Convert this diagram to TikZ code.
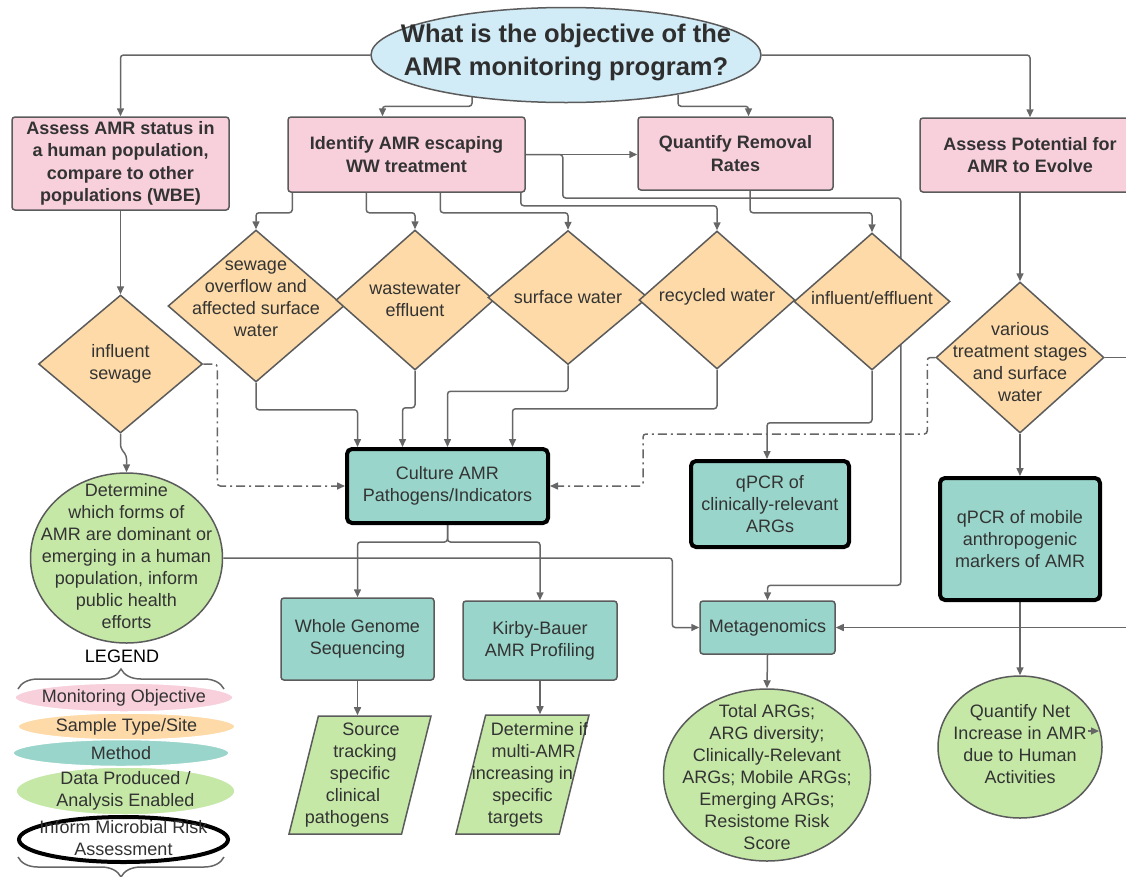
\documentclass[tikz,border=0pt]{standalone}
\usepackage{fontspec}
\setmainfont{Liberation Sans}
\usetikzlibrary{shapes.geometric,arrows.meta,calc,backgrounds,decorations.pathreplacing}

\definecolor{objpink}{HTML}{F8D0DC}
\definecolor{siteorange}{HTML}{FDDAA7}
\definecolor{methteal}{HTML}{99D5CA}
\definecolor{datagreen}{HTML}{C5E8A7}
\definecolor{askblue}{HTML}{D1EBF7}
\definecolor{edge}{HTML}{5B5B5B}
\definecolor{wire}{HTML}{666666}
\definecolor{ink}{HTML}{333333}

\tikzset{
  txt/.style={font=\fontsize{18}{22}\selectfont, text=ink, align=center, inner sep=0pt},
  asktxt/.style={txt, font=\bfseries\fontsize{25.5}{33}\selectfont, text=ink!90!black},
  askball/.style={ellipse, draw=edge, line width=1.5pt, fill=askblue, inner sep=0pt},
  objbox/.style={rectangle, rounded corners=3pt, draw=edge, line width=1.5pt, fill=objpink,
    font=\bfseries\fontsize{18}{22.5}\selectfont, text=ink, align=center, inner sep=0pt},
  sitebox/.style={diamond, draw=edge, line width=1.5pt, fill=siteorange, inner sep=0pt},
  methbox/.style={rectangle, rounded corners=3pt, draw=edge, line width=1.5pt, fill=methteal, txt},
  riskbox/.style={methbox, draw=black, line width=4pt, rounded corners=5pt},
  databall/.style={ellipse, draw=edge, line width=1.5pt, fill=datagreen, inner sep=0pt},
  datapar/.style={trapezium, trapezium left angle=76, trapezium right angle=104,
    trapezium stretches body, draw=edge, line width=1.5pt, fill=datagreen, inner sep=0pt},
  legkey/.style={ellipse, draw=white, line width=1.5pt, inner sep=0pt},
  plain/.style={draw=wire, line width=1.5pt, rounded corners=3pt},
  conn/.style={plain, -{Triangle[length=8pt,width=7pt]}},
  dashconn/.style={conn, dash pattern=on 9pt off 4pt on 2pt off 4pt},
  brace/.style={draw=wire, line width=1.5pt, decorate, decoration={brace, amplitude=20pt}},
}

\begin{document}
\begin{tikzpicture}[x=1pt,y=-1pt]
\useasboundingbox (0,0) rectangle (1126,876);

% question
\node[askball, minimum width=390pt, minimum height=95pt,
  label={[asktxt, yshift=3pt]center:{What is the objective of the\\AMR monitoring program?}}] (ask) at (566,55) {};

% monitoring objectives
\node[objbox, minimum width=217pt, minimum height=93pt] (assess) at (120.5,163.5) {Assess AMR status in\\a human population,\\compare to other\\populations (WBE)};
\node[objbox, minimum width=237pt, minimum height=75pt] (identify) at (406.5,154.5) {Identify AMR escaping\\WW treatment};
\node[objbox, minimum width=195pt, minimum height=73pt] (quantify) at (735.5,153.5) {Quantify Removal\\Rates};
\node[objbox, minimum width=220pt, minimum height=74pt] (potential) at (1030,155) {Assess Potential for\\AMR to Evolve};

% sample types / sites
\node[sitebox, minimum width=164pt, minimum height=138pt, label={[txt]center:{influent\\sewage}}] (infsew) at (120.5,364) {};
\node[sitebox, minimum width=176pt, minimum height=152pt, label={[txt, yshift=7pt]center:{sewage\\overflow and\\affected surface\\water}}] (overflow) at (256,306) {};
\node[sitebox, minimum width=158pt, minimum height=140pt, label={[txt]center:{wastewater\\effluent}}] (wweff) at (415,300) {};
\node[sitebox, minimum width=160pt, minimum height=134pt, label={[txt]center:{surface water}}] (surf) at (568,297.5) {};
\node[sitebox, minimum width=156pt, minimum height=138pt, label={[txt, yshift=3pt]center:{recycled water}}] (recyc) at (717,300) {};
\node[sitebox, minimum width=156pt, minimum height=137pt, label={[txt, yshift=3pt]center:{influent/effluent}}] (inoutf) at (872,301.5) {};
\node[sitebox, minimum width=168pt, minimum height=151pt, label={[txt, yshift=-5pt]center:{various\\treatment stages\\and surface\\water}}] (stages) at (1020,357.5) {};

% methods
\node[riskbox, minimum width=201pt, minimum height=74pt] (culture) at (447.5,486) {Culture AMR\\Pathogens/Indicators};
\node[riskbox, minimum width=158pt, minimum height=86pt] (qpcrc) at (770,504) {qPCR of\\clinically-relevant\\ARGs};
\node[riskbox, minimum width=160pt, minimum height=122pt] (qpcrm) at (1020,539) {qPCR of mobile\\anthropogenic\\markers of AMR};
\node[methbox, minimum width=135pt, minimum height=53pt] (meta) at (767.5,627.5) {Metagenomics};
\node[methbox, minimum width=153pt, minimum height=82pt] (wgs) at (357.5,639) {Whole Genome\\Sequencing};
\node[methbox, minimum width=154pt, minimum height=79pt] (kirby) at (540,640.5) {Kirby-Bauer\\AMR Profiling};

% data produced / analysis enabled
\node[databall, minimum width=192pt, minimum height=170pt, label={[txt, yshift=2pt]center:{Determine\\which forms of\\AMR are dominant or\\emerging in a human\\population, inform\\public health\\efforts}}] (forms) at (126.5,558) {};
\node[databall, minimum width=207pt, minimum height=172pt, label={[txt, yshift=-2pt]center:{Total ARGs;\\ARG diversity;\\Clinically-Relevant\\ARGs; Mobile ARGs;\\Emerging ARGs;\\Resistome Risk\\Score}}] (total) at (767,775) {};
\node[databall, minimum width=164pt, minimum height=142pt, label={[txt, yshift=3pt]center:{Quantify Net\\Increase in AMR\\due to Human\\Activities}}] (netinc) at (1020,747) {};
\node[datapar, minimum width=142pt, label={[txt]center:{\hspace*{22pt}Source\\\hspace*{10pt}tracking\\specific\\\hspace*{-14pt}clinical\\\hspace*{-26pt}pathogens}}] (srctrack) at (360,775) {\rule{0pt}{118pt}};
\node[datapar, minimum width=133pt, label={[txt]center:{\hspace*{34pt}Determine if\\\hspace*{22pt}multi-AMR\\increasing in\\specific\\\hspace*{-14pt}targets}}] (multiamr) at (522.5,774.5) {\rule{0pt}{119pt}};

% legend
\node[txt, text=black] (legtitle) at (122,656) {LEGEND};
\draw[brace] (18,689) -- (224,689);
\node[legkey, fill=objpink, minimum width=218pt, minimum height=29pt, label={[txt]center:{Monitoring Objective}}] (keyobj) at (124,697.5) {};
\node[legkey, fill=siteorange, minimum width=217pt, minimum height=27pt, label={[txt]center:{Sample Type/Site}}] (keysite) at (126.5,726.5) {};
\node[legkey, fill=methteal, minimum width=216pt, minimum height=27pt, label={[txt]center:{Method}}] (keymeth) at (121,753) {};
\node[legkey, fill=datagreen, minimum width=219pt, minimum height=48pt, label={[txt]center:{Data Produced /\\Analysis Enabled}}] (keydata) at (125.5,791) {};
\node[legkey, draw=black, line width=4pt, fill=white, minimum width=209pt, minimum height=45pt, label={[txt, yshift=1pt]center:{Inform Microbial Risk\\Assessment}}] (keyrisk) at (123.5,839.5) {};
\draw[brace] (224,857) -- (18,857);

\coordinate (offstage) at (1140,357.5);
\coordinate (offmeta) at (1140,627.5);
\coordinate (nettip) at (1099,731);

\begin{scope}[on background layer]
  % from the question
  \draw[conn] (ask.west) -| (assess.north);
  \draw[conn] ($(ask.center)+(-94,40)$) |- ([xshift=-24pt, yshift=10pt]identify.north) -- ([xshift=-24pt]identify.north);
  \draw[conn] ($(ask.center)+(112,40)$) |- ([xshift=13pt, yshift=10pt]quantify.north) -- ([xshift=13pt]quantify.north);
  \draw[conn] (ask.east) -| (potential.north);
  % human population branch
  \draw[conn] (assess.south) -- (infsew.north);
  \draw[conn] (infsew.south) -- ++(0,14) -- ++(6,8) -- (forms.north);
  \draw[dashconn] (infsew.east) -- ++(14,0) |- (culture.west);
  % escaping treatment branch
  \draw[conn] ([xshift=5pt]identify.south west) -- ++(0,20) -| (overflow.north);
  \draw[conn] ([xshift=79pt]identify.south west) -- ++(0,20) -| (wweff.north);
  \draw[conn] ([xshift=153pt]identify.south west) -- ++(0,20) -| (surf.north);
  \draw[conn] ([xshift=-5pt]identify.south east) -- ++(0,13) -| (recyc.north);
  \draw[conn] (identify.east) -- (identify.east -| quantify.west);
  \draw[conn] (identify.east) -- ++(37,0) -- ++(0,43.5) -- ++(338,0) |- ($(meta.north)+(0,-15)$) -- (meta.north);
  \draw[conn] ([xshift=14.5pt]quantify.south) -- ++(0,22) -| (inoutf.north);
  % sites to methods
  \draw[conn] (overflow.south) -- ++(0,27) -| ([xshift=-90pt]culture.north);
  \draw[conn] (wweff.south) -- ++(0,37) -| ([xshift=-45pt]culture.north);
  \draw[conn] (surf.south) -- ++(0,26) -| (culture.north);
  \draw[conn] (recyc.south) -- ++(0,39) -| ([xshift=65pt]culture.north);
  \draw[conn] (inoutf.south) -- ++(0,52) -| ([xshift=-3pt]qpcrc.north);
  \draw[dashconn] (stages.west) -- ++(-8,0) -- ++(0,76.5) -| ($(culture.east)+(93,0)$) -- (culture.east);
  % evolve branch
  \draw[conn] ([xshift=-10pt]potential.south) -- (stages.north);
  \draw[plain] (stages.east) -- (offstage);
  \draw[conn] (stages.south) -- (qpcrm.north);
  \draw[conn] (qpcrm.south) -- (netinc.north);
  \draw[conn] (offmeta) -- (meta.east);
  \draw[conn] (forms.east) -| ($(meta.west)+(-27,0)$) -- (meta.west);
  % methods to data
  \draw[conn] (culture.south) -- ++(0,17) -| (wgs.north);
  \draw[conn] (culture.south) -- ++(0,17) -| (kirby.north);
  \draw[conn] (wgs.south) -- (wgs.south |- srctrack.north);
  \draw[conn] (kirby.south) -- (kirby.south |- multiamr.north);
  \draw[conn] (meta.south) -- (total.north);
\end{scope}
\draw[conn] ([xshift=-11pt]nettip) -- (nettip);

\end{tikzpicture}
\end{document}
